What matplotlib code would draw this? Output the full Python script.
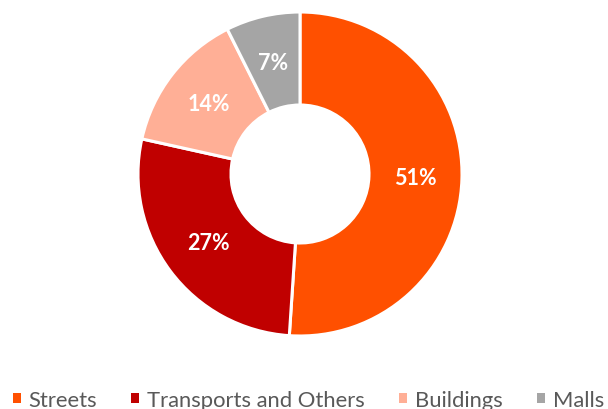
import matplotlib
matplotlib.use("Agg")
import matplotlib.pyplot as plt

categories = ["Streets", "Transports and Others", "Buildings", "Malls"]
values = [51.0, 27.4, 14.1, 7.4]
labels = ["51%", "27%", "14%", "7%"]
colors = ["#FF5000", "#C00000", "#FFAF96", "#A5A5A5"]

plt.rcParams['font.family'] = ['Lato', 'DejaVu Sans']
fig = plt.figure(figsize=(6.08, 4.10), dpi=100)
ax = fig.add_axes([0, 0, 1, 1])

R = 162
wedges, texts = ax.pie(values, colors=colors, startangle=90, counterclock=False,
                       radius=R, center=(300, 235),
                       wedgeprops=dict(width=93, edgecolor='white', linewidth=2.2),
                       labels=labels, labeldistance=0.71,
                       textprops=dict(color='white', fontsize=15.5, fontweight='bold',
                                      ha='center', va='center'),
                       frame=True)
ax.set_xlim(0, 608)
ax.set_ylim(0, 410)
ax.set_aspect('equal')
ax.axis('off')

fs = 15.8
em = fs * 100 / 72
leg = ax.legend(wedges, categories, loc='center left', bbox_to_anchor=(12.7 / 608, 9 / 410),
                bbox_transform=fig.transFigure, borderaxespad=0, borderpad=0,
                ncol=4, frameon=False, fontsize=fs, handlelength=8 / em, handleheight=8 / em,
                handletextpad=8 / em, columnspacing=34 / em, labelcolor='#595959')
for h in leg.legend_handles:
    h.set_edgecolor('none')

fig.savefig("out.png", dpi=100)
